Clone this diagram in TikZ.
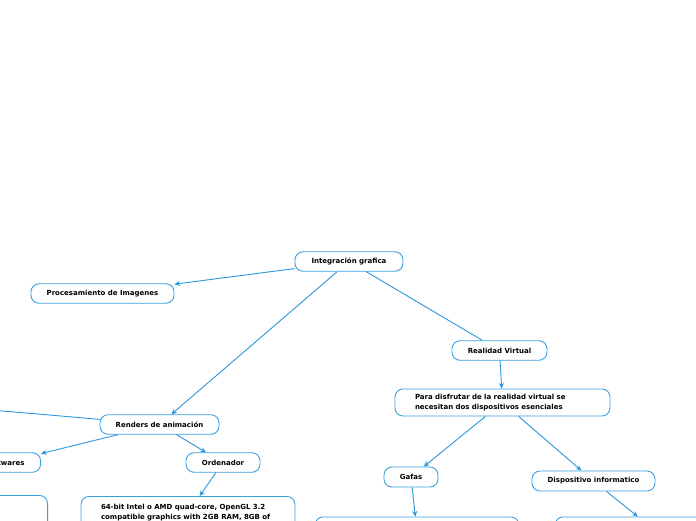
\documentclass[tikz,border=0pt]{standalone}
\usepackage{fontspec}
\setmainfont{DejaVu Sans}
\usetikzlibrary{arrows.meta}
\definecolor{mmblue}{HTML}{2A96DC}
\definecolor{mmborder}{HTML}{3AA0E0}
\tikzset{
  topic/.style={draw=mmborder, line width=0.9pt, rounded corners=8pt, fill=white,
    font=\fontsize{7}{9.8}\selectfont\bfseries, text=black, inner sep=0pt,
    minimum height=19.5pt},
  longtopic/.style={topic, inner xsep=20pt, inner ysep=5pt, align=left},
  link/.style={draw=mmblue, line width=0.9pt},
  arrowlink/.style={link, -{Stealth[length=5.5pt,width=5pt]}}
}
\begin{document}
\begin{tikzpicture}[x=1pt,y=-1pt]
\useasboundingbox (0,0) rectangle (696,520);
\clip (0,0) rectangle (696,520);
\node[topic, minimum width=108pt] (integ) at (349,261.5) {Integración grafica};
\node[topic, minimum width=143pt] (proc) at (102.5,293.5) {Procesamiento de Imagenes};
\node[topic, minimum width=119pt] (renders) at (159.5,424.5) {Renders de animación};
\node[topic, inner xsep=16pt, anchor=east] (soft) at (41,462.5) {Softwares};
\node[topic, minimum width=74pt] (orden) at (223,462.5) {Ordenador};
\node[longtopic, text width=174pt, anchor=north, inner ysep=8pt] (spec) at (188,496) {64-bit Intel o AMD quad-core, OpenGL 3.2\\compatible graphics with 2GB RAM, 8GB of};
\node[topic, minimum width=200pt, minimum height=40pt, anchor=north east] (leftbox) at (48,495) {};
\node[topic, minimum width=95pt] (rv) at (499.5,350.5) {Realidad Virtual};
\node[longtopic, text width=175pt, minimum height=27pt] (para) at (502.5,402.5) {Para disfrutar de la realidad virtual se\\necesitan dos dispositivos esenciales};
\node[topic, minimum width=54pt, minimum height=20pt] (gafas) at (411,477) {Gafas};
\node[topic, minimum width=123pt, minimum height=20pt] (disp) at (593.5,481) {Dispositivo informatico};
\node[topic, minimum width=204pt, minimum height=30pt] (gafasbox) at (417,532) {};
\node[topic, minimum width=204pt, minimum height=30pt] (dispbox) at (657,532) {};
\coordinate (offleft) at (-40,407.3);

\draw[arrowlink] (integ) -- (proc);
\draw[arrowlink] (integ) -- (renders);
\draw[link] (integ) -- (rv);
\draw[link] (renders) -- (offleft);
\draw[arrowlink] (renders) -- (soft);
\draw[arrowlink] (renders) -- (orden);
\draw[arrowlink] (orden) -- (spec);
\draw[arrowlink] (rv) -- (para);
\draw[arrowlink] (para) -- (gafas);
\draw[arrowlink] (para) -- (disp);
\draw[arrowlink] (gafas) -- (gafasbox);
\draw[arrowlink] (disp) -- (dispbox);
\end{tikzpicture}
\end{document}
